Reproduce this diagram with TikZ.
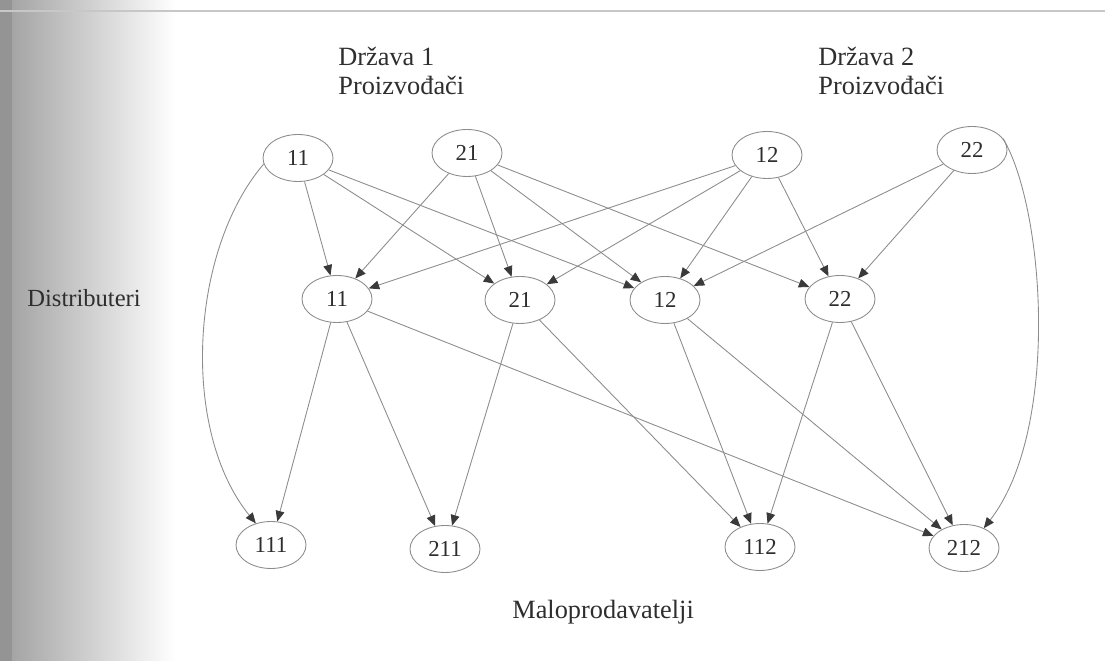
\documentclass[tikz,border=0pt]{standalone}
\usepackage{fontspec}
\setmainfont{Liberation Serif}
\usepackage{tikz}
\usepackage{xcolor}
\usetikzlibrary{shapes.geometric, arrows.meta}
\definecolor{linegray}{HTML}{8C8C8C}
\definecolor{tipgray}{HTML}{3A3A3A}
\definecolor{inkgray}{HTML}{2E2E2E}
\tikzset{
    cvor/.style={ellipse, draw=linegray, line width=0.5pt, minimum width=1.4cm, minimum height=0.94cm, inner sep=0pt, text=inkgray, font=\fontsize{13}{15}\selectfont},
    veza/.style={draw=linegray, line width=0.5pt, -{Triangle[length=6pt, width=5pt, color=tipgray]}},
    natpis/.style={inner sep=0pt, text=inkgray, font=\fontsize{15}{17}\selectfont}
}
\begin{document}
\begin{tikzpicture}[x=0.02cm, y=-0.02cm]
                \useasboundingbox (0,0) rectangle (1105,661);
                \shade[left color=black!38, right color=white] (0,0) rectangle (175,661);
                \fill[black!42] (0,0) rectangle (12,661);
                \draw[black!22, line width=0.6pt] (0,11) -- (1105,11);

                \node[natpis, anchor=base west] (drzava1) at (338,66) {Država 1};
                \node[natpis, anchor=base west] (proizv1) at (338,95) {Proizvođači};
                \node[natpis, anchor=base west] (drzava2) at (818,66) {Država 2};
                \node[natpis, anchor=base west] (proizv2) at (818,95) {Proizvođači};
                \node[natpis, anchor=base west, font=\fontsize{14}{16}\selectfont] (distrib) at (27,307) {Distributeri};
                \node[natpis, anchor=base west] (malopr) at (512,619) {Maloprodavatelji};

                \node[cvor] (p11) at (298,158) {11};
                \node[cvor] (p21) at (467,153) {21};
                \node[cvor] (p12) at (767,155) {12};
                \node[cvor] (p22) at (972,150) {22};

                \node[cvor] (d11) at (337,299) {11};
                \node[cvor] (d21) at (520,300) {21};
                \node[cvor] (d12) at (665,300) {12};
                \node[cvor] (d22) at (840,299) {22};

                \node[cvor] (r111) at (271,545) {111};
                \node[cvor] (r211) at (445,549) {211};
                \node[cvor] (r112) at (760,547) {112};
                \node[cvor] (r212) at (964,548) {212};

                \draw[veza] (p11) -- (d11);
                \draw[veza] (p11) -- (d21);
                \draw[veza] (p11) -- (d12);
                \draw[veza] (p11.190) .. controls (190,250) and (180,430) .. (r111.125);

                \draw[veza] (p21) -- (d11);
                \draw[veza] (p21) -- (d21);
                \draw[veza] (p21) -- (d12);
                \draw[veza] (p21) -- (d22);

                \draw[veza] (p12) -- (d11);
                \draw[veza] (p12) -- (d21);
                \draw[veza] (p12) -- (d12);
                \draw[veza] (p12) -- (d22);

                \draw[veza] (p22) -- (d12);
                \draw[veza] (p22) -- (d22);
                \draw[veza] (p22.20) .. controls (1045,210) and (1060,430) .. (r212.45);

                \draw[veza] (d11) -- (r111);
                \draw[veza] (d11) -- (r211);
                \draw[veza] (d11) -- (r212);
                \draw[veza] (d21) -- (r211);
                \draw[veza] (d21) -- (r112);
                \draw[veza] (d12) -- (r112);
                \draw[veza] (d12) -- (r212);
                \draw[veza] (d22) -- (r112);
                \draw[veza] (d22) -- (r212);
            \end{tikzpicture}
\end{document}
